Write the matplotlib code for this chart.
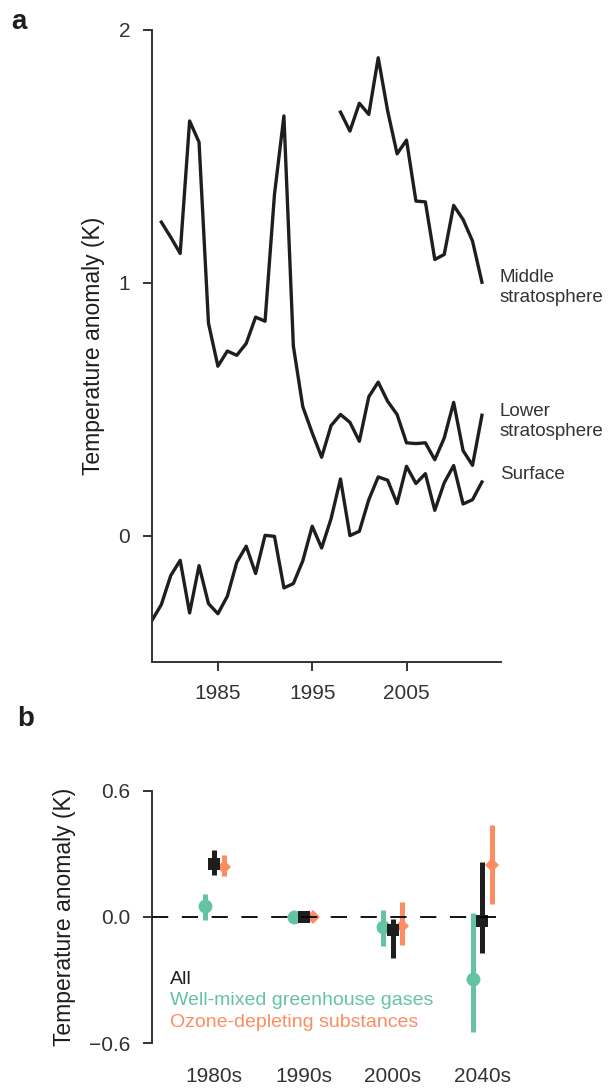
import matplotlib
matplotlib.use("Agg")
import matplotlib.pyplot as plt

plt.rcParams["font.family"] = ["Liberation Sans", "DejaVu Sans"]

# panel a: annual mean temperature anomalies (K)
surface_years = list(range(1978, 2014))
surface = [-0.336, -0.273, -0.158, -0.098, -0.306, -0.119, -0.269, -0.309, -0.24, -0.106,
           -0.042, -0.15, 0.001, -0.003, -0.207, -0.19, -0.10, 0.037, -0.049, 0.067,
           0.224, 0.0, 0.017, 0.142, 0.232, 0.219, 0.127, 0.274, 0.206, 0.245,
           0.10, 0.209, 0.277, 0.125, 0.142, 0.212]
lower_years = list(range(1979, 2014))
lower_strat = [1.24, 1.18, 1.116, 1.64, 1.556, 0.84, 0.67, 0.73, 0.713, 0.76,
               0.864, 0.848, 1.35, 1.66, 0.75, 0.51, 0.406, 0.31, 0.435, 0.479,
               0.448, 0.373, 0.549, 0.607, 0.531, 0.479, 0.367, 0.364, 0.367, 0.30,
               0.386, 0.527, 0.336, 0.278, 0.476]
middle_years = list(range(1998, 2014))
middle_strat = [1.675, 1.60, 1.71, 1.666, 1.89, 1.68, 1.51, 1.564, 1.323, 1.32,
                1.092, 1.112, 1.306, 1.25, 1.165, 1.002]
curve_labels = ["Middle\nstratosphere", "Lower\nstratosphere", "Surface"]
curve_label_y = [0.981, 0.451, 0.241]

# panel b: decadal anomalies with ranges
decades = ["1980s", "1990s", "2000s", "2040s"]
all_mean = [0.254, 0.0, -0.063, -0.019]
all_lo = [0.201, 0.0, -0.195, -0.171]
all_hi = [0.317, 0.0, -0.011, 0.261]
ghg_mean = [0.052, 0.0, -0.047, -0.296]
ghg_lo = [-0.016, 0.0, -0.138, -0.546]
ghg_hi = [0.111, 0.0, 0.032, 0.019]
ods_mean = [0.238, 0.0, -0.044, 0.246]
ods_lo = [0.193, 0.0, -0.133, 0.064]
ods_hi = [0.293, 0.0, 0.071, 0.439]
legend_names = ["All", "Well-mixed greenhouse gases", "Ozone-depleting substances"]

DARK = "#1e1e1e"
GREEN = "#66c2a5"
ORANGE = "#fc8d62"
AXIS = "#333333"


def style_axis(ax):
    ax.spines["top"].set_visible(False)
    ax.spines["right"].set_visible(False)
    for side in ("left", "bottom"):
        ax.spines[side].set_color(AXIS)
        ax.spines[side].set_linewidth(1.4)
    ax.tick_params(colors=AXIS, labelcolor=AXIS, labelsize=15, width=1.4, length=6.5, pad=9)


fig = plt.figure(figsize=(6.1, 10.89), dpi=100)

# ---- panel a
ax_a = fig.add_axes([0.249, 0.3921, 0.572, 0.5804])
ax_a.plot(surface_years, surface, color=DARK, lw=2.4)
ax_a.plot(lower_years, lower_strat, color=DARK, lw=2.4)
ax_a.plot(middle_years, middle_strat, color=DARK, lw=2.4)
for text, y in zip(curve_labels, curve_label_y):
    ax_a.text(2014.9, y, text, ha="left", va="center", fontsize=13.5, color=AXIS)
ax_a.set_xlim(1978, 2015)
ax_a.set_ylim(-0.5, 2.0)
ax_a.set_xticks([1985, 1995, 2005])
ax_a.set_yticks([0, 1, 2])
style_axis(ax_a)
ax_a.set_ylabel("Temperature anomaly (K)", fontsize=16.5, color=DARK)
ax_a.yaxis.set_label_coords(-0.135, 0.5)

# ---- panel b
ax_b = fig.add_axes([0.2487, 0.042, 0.5738, 0.2319])
pos = list(range(len(decades)))
series = [
    (ghg_mean, ghg_lo, ghg_hi, GREEN, "o", 10, -0.107),
    (ods_mean, ods_lo, ods_hi, ORANGE, "D", 7.5, 0.107),
    (all_mean, all_lo, all_hi, DARK, "s", 8.5, 0.0),
]
for mean, lo, hi, color, marker, size, shift in series:
    xs = [p + shift for p in pos]
    err = [[m - l for m, l in zip(mean, lo)], [h - m for m, h in zip(mean, hi)]]
    ax_b.errorbar(xs, mean, yerr=err, fmt=marker, color=color, ms=size, mew=0,
                  elinewidth=3.6, capsize=0)
ax_b.axhline(0, color="black", lw=1.3, ls=(0, (9, 7.5)), zorder=5)
for i, (name, color) in enumerate(zip(legend_names, [DARK, GREEN, ORANGE])):
    ax_b.text(-0.497, -0.297 - 0.101 * i, name, color=color, fontsize=14,
              ha="left", va="center")
ax_b.set_xlim(-0.7, 3.22)
ax_b.set_ylim(-0.6, 0.6)
ax_b.set_yticks([-0.6, 0.0, 0.6])
ax_b.set_yticklabels(["\u22120.6", "0.0", "0.6"])
ax_b.set_xticks(pos)
ax_b.set_xticklabels(decades)
style_axis(ax_b)
ax_b.spines["bottom"].set_visible(False)
ax_b.tick_params(axis="x", length=0, pad=17)
ax_b.set_ylabel("Temperature anomaly (K)", fontsize=16.5, color=DARK)
ax_b.yaxis.set_label_coords(-0.215, 0.5)

fig.text(0.019, 0.980, "a", fontsize=20, fontweight="bold", color=DARK, va="center")
fig.text(0.028, 0.340, "b", fontsize=20, fontweight="bold", color=DARK, va="center")

fig.savefig("out.png", dpi=100)
plt.close(fig)
